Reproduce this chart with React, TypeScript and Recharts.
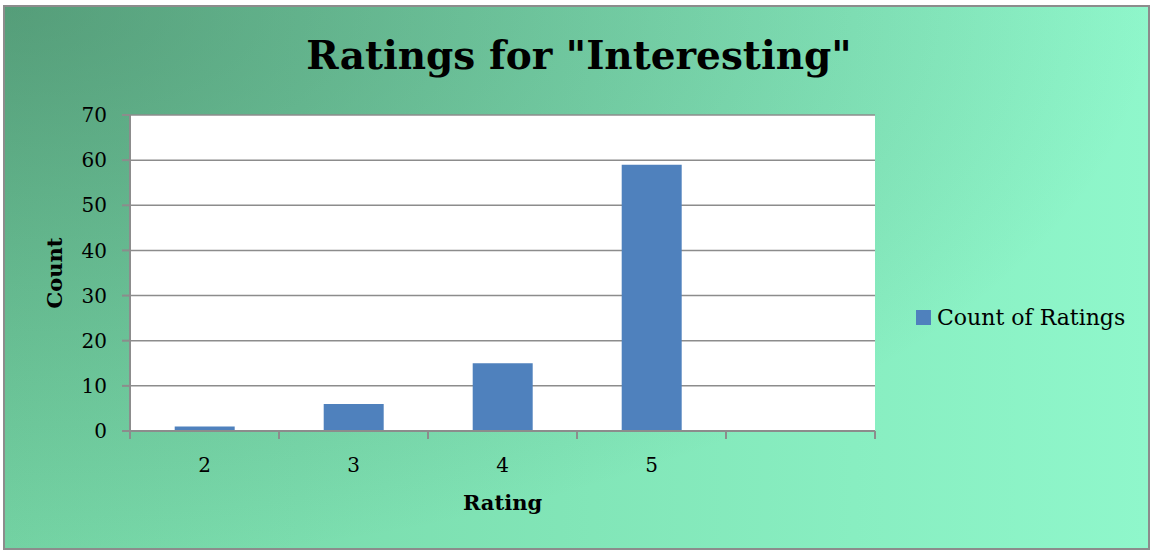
import React from 'react';
import { BarChart, Bar, XAxis, YAxis, CartesianGrid, Legend } from 'recharts';

const ratings = ['2', '3', '4', '5', ''];
const counts = [1, 6, 15, 59, null];
const countTicks = [0, 10, 20, 30, 40, 50, 60, 70];

const chartData = ratings.map((rating, i) => ({ rating, count: counts[i] }));

const FONT = '"DejaVu Serif", serif';
const AXIS_GREY = '#8c8c8c';
const X_TICK_SIZE = 8;
const X_TICK_MARGIN = 19;

// Excel-style category axis: tick marks sit on the category boundaries, labels in the middle
const CategoryTick = (props: any) => {
  const { x, y, payload, index, visibleTicksCount } = props;
  const half = payload && typeof payload.offset === 'number' ? payload.offset : 74.5;
  const axisY = y - X_TICK_SIZE - X_TICK_MARGIN;
  const isLast = index === visibleTicksCount - 1;
  return (
    <g>
      <line x1={x - half} x2={x - half} y1={axisY} y2={axisY + X_TICK_SIZE} stroke={AXIS_GREY} strokeWidth={2} />
      {isLast && (
        <line x1={x + half} x2={x + half} y1={axisY} y2={axisY + X_TICK_SIZE} stroke={AXIS_GREY} strokeWidth={2} />
      )}
      <text x={x} y={y} dy="0.71em" textAnchor="middle" fill="#000" fontFamily={FONT} fontSize={20}>
        {payload.value}
      </text>
    </g>
  );
};

const renderLegend = () => (
  <div style={{ display: 'flex', alignItems: 'center', fontFamily: FONT, fontSize: 22, color: '#000' }}>
    <span style={{ display: 'inline-block', width: 15, height: 15, background: '#4f81bd', marginRight: 6 }} />
    <span>Count of Ratings</span>
  </div>
);

export default function App() {
  return (
    <div style={{ position: 'absolute', left: 0, top: 0, width: 1151, height: 552 }}>
      <div
        style={{
          position: 'absolute',
          left: 3,
          top: 5,
          width: 1143,
          height: 541,
          border: '2px solid #8c8c8c',
          background:
            'radial-gradient(1150px 560px at 0 0, rgba(30,60,45,0.36) 0%, rgba(30,60,45,0) 100%), linear-gradient(90deg, #74d4a4, #8ff7cb)',
        }}
      />
      <div
        style={{
          position: 'absolute',
          left: 0,
          top: 32,
          width: 1158,
          textAlign: 'center',
          fontFamily: FONT,
          fontWeight: 'bold',
          fontSize: 39,
          color: '#000',
        }}
      >
        Ratings for "Interesting"
      </div>
      <div style={{ position: 'absolute', left: 0, top: 0 }}>
        <BarChart
          width={1151}
          height={552}
          data={chartData}
          margin={{ top: 115, right: 276, bottom: 91, left: 70 }}
          barCategoryGap="30%"
        >
          <CartesianGrid horizontal vertical={false} stroke={AXIS_GREY} strokeWidth={1.5} fill="#ffffff" />
          <XAxis
            dataKey="rating"
            height={30}
            interval={0}
            tickLine={false}
            tickSize={X_TICK_SIZE}
            tickMargin={X_TICK_MARGIN}
            axisLine={{ stroke: AXIS_GREY, strokeWidth: 2 }}
            tick={<CategoryTick />}
            label={{ value: 'Rating', position: 'insideBottom', offset: -49, fill: '#000', fontFamily: FONT, fontWeight: 'bold', fontSize: 21 }}
          />
          <YAxis
            width={60}
            domain={[0, 70]}
            ticks={countTicks}
            interval={0}
            tickSize={8}
            tickMargin={15}
            tickLine={{ stroke: AXIS_GREY, strokeWidth: 2 }}
            axisLine={{ stroke: AXIS_GREY, strokeWidth: 2 }}
            tick={{ fill: '#000', fontFamily: FONT, fontSize: 20 }}
            label={{ value: 'Count', angle: -90, position: 'insideLeft', offset: -15, fill: '#000', fontFamily: FONT, fontWeight: 'bold', fontSize: 21, style: { textAnchor: 'middle' } }}
          />
          <Legend
            layout="horizontal"
            align="center"
            verticalAlign="middle"
            content={renderLegend}
            wrapperStyle={{ left: 916, top: 305, width: 'auto', height: 'auto' }}
          />
          <Bar dataKey="count" name="Count of Ratings" fill="#4f81bd" isAnimationActive={false} />
        </BarChart>
      </div>
    </div>
  );
}
